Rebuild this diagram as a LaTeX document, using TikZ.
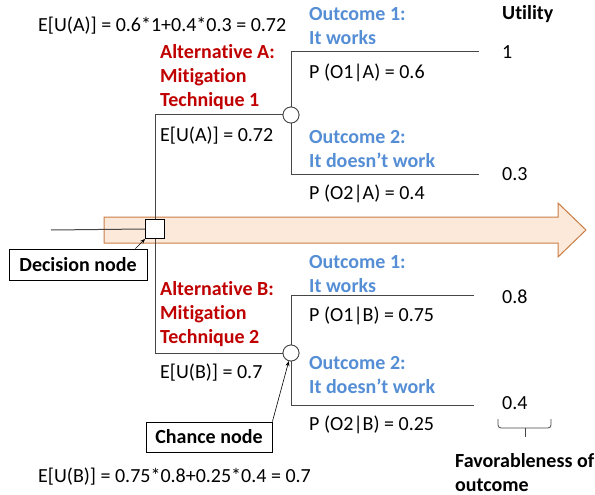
\documentclass[tikz,border=0pt]{standalone}
\usepackage{fontspec}
\setmainfont{Carlito}[Ligatures=NoCommon]
\usetikzlibrary{arrows.meta}
\definecolor{altred}{RGB}{192,0,0}
\definecolor{outblue}{RGB}{85,142,213}
\definecolor{arrfill}{RGB}{253,233,217}
\definecolor{arrdraw}{RGB}{200,125,70}
\definecolor{linegray}{RGB}{70,70,70}
\begin{document}
\begin{tikzpicture}[x=1pt,y=-1pt,
  txt/.style={font=\fontsize{20}{24}\selectfont, inner sep=0pt, anchor=west, align=left},
  boldtxt/.style={txt, font=\bfseries\fontsize{20}{24}\selectfont},
  alt/.style={boldtxt, text=altred},
  outc/.style={boldtxt, text=outblue},
  branch/.style={draw=linegray, line width=1pt},
  chance/.style={circle, draw=linegray, line width=0.8pt, fill=white, minimum size=16pt, inner sep=0pt},
  decision/.style={rectangle, draw=black, line width=0.8pt, fill=white, minimum size=19pt, inner sep=0pt},
  labelbox/.style={draw=black, line width=0.8pt, fill=white, font=\bfseries\fontsize{20}{24}\selectfont, inner sep=0pt, minimum height=31pt},
  pointer/.style={draw=black, line width=0.6pt, -{Stealth[length=5pt,width=4pt]}}
]
\useasboundingbox (0,0) rectangle (595,495);

% time arrow
\draw[fill=arrfill, draw=arrdraw, line width=1pt]
  (104,217) -- (558,217) -- (558,203) -- (586,230) -- (558,257) -- (558,243) -- (104,243) -- cycle;

% nodes
\node[decision] (D) at (155,229) {};
\node[chance] (CA) at (291,115) {};
\node[chance] (CB) at (291,353) {};
\coordinate (in) at (51,230);
\coordinate (A1) at (479,52);
\coordinate (A2) at (479,174);
\coordinate (B1) at (474,295);
\coordinate (B2) at (474,405);

% branches
\draw[branch] (in) -- (D.west);
\draw[branch] (D.north) |- (CA.west);
\draw[branch] (D.south) |- (CB.west);
\draw[branch] (CA.north) |- (A1);
\draw[branch] (CA.south) |- (A2);
\draw[branch] (CB.north) |- (B1);
\draw[branch] (CB.south) |- (B2);
\node[chance] at (CA) {};
\node[chance] at (CB) {};

% label boxes
\node[labelbox, minimum width=138pt] (DN) at (78,264.5) {Decision node};
\node[labelbox, minimum width=126pt, minimum height=30pt] (CN) at (209,437) {Chance node};
\draw[pointer] ([xshift=-12pt]DN.north east) -- (D.south west);
\draw[pointer] (CN.north east) -- (CB);

% texts
\node[txt] (topf) at (38,26) {E[U(A)] = 0.6*1+0.4*0.3 = 0.72};
\node[alt] (altA) at (160,77) {Alternative A:\\Mitigation\\Technique 1};
\node[txt] (eua) at (160,136) {E[U(A)] = 0.72};
\node[outc] (oA1) at (309,26.5) {Outcome 1:\\It works};
\node[txt] (pA1) at (309,73) {P (O1\textbar A) = 0.6};
\node[outc] (oA2) at (309,149) {Outcome 2:\\It doesn’t work};
\node[txt] (pA2) at (309,194) {P (O2\textbar A) = 0.4};
\node[boldtxt] (util) at (502,14) {Utility};
\node[txt] (u1) at (502,52) {1};
\node[txt] (u03) at (502,174) {0.3};

\node[alt] (altB) at (160,314) {Alternative B:\\Mitigation\\Technique 2};
\node[txt] (eub) at (160,373) {E[U(B)] = 0.7};
\node[outc] (oB1) at (309,274.5) {Outcome 1:\\It works};
\node[txt] (pB1) at (309,316) {P (O1\textbar B) = 0.75};
\node[outc] (oB2) at (309,375.5) {Outcome 2:\\It doesn’t work};
\node[txt] (pB2) at (309,425) {P (O2\textbar B) = 0.25};
\node[txt] (u08) at (502,297) {0.8};
\node[txt] (u04) at (502,403) {0.4};
\node[txt] (botf) at (38,477) {E[U(B)] = 0.75*0.8+0.25*0.4 = 0.7};
\node[boldtxt] (fav) at (455,472.5) {Favorableness of\\outcome};

% brace
\draw[draw=linegray, line width=0.8pt, rounded corners=3pt]
  (498,419) -- (498,428) -- (551,428) -- (551,419);
\draw[draw=linegray, line width=0.8pt] (525,428) -- (525,437);
\end{tikzpicture}
\end{document}
